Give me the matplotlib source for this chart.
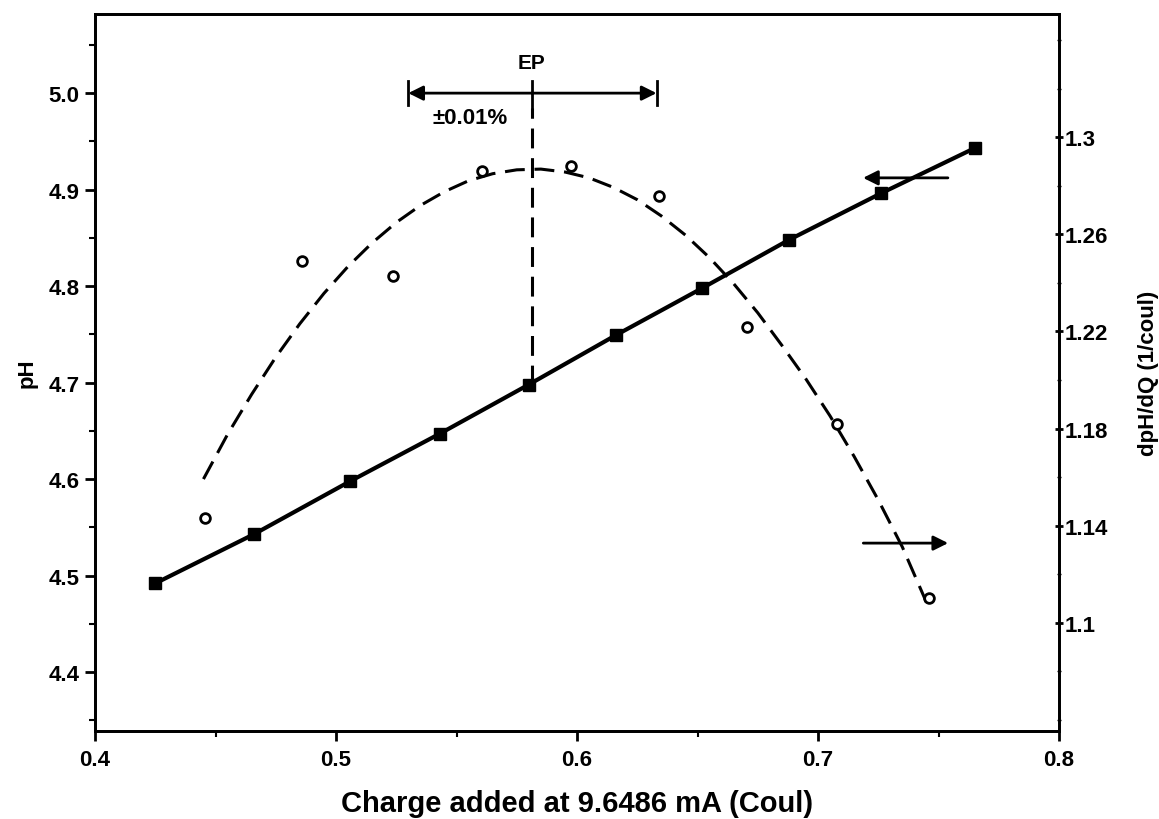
import matplotlib.pyplot as plt
from matplotlib.ticker import MultipleLocator, FormatStrFormatter
import numpy as np

# pH curve (left axis)
charge_ph = [0.425, 0.466, 0.506, 0.543, 0.580, 0.616, 0.652, 0.688, 0.726, 0.765]
ph = [4.492, 4.543, 4.598, 4.647, 4.698, 4.749, 4.798, 4.848, 4.896, 4.943]

# derivative points (right axis)
charge_d = [0.4456, 0.4858, 0.5238, 0.5605, 0.5975, 0.6342, 0.6704, 0.7078, 0.7462]
dphdq = [1.143, 1.249, 1.243, 1.286, 1.288, 1.276, 1.222, 1.182, 1.110]

# dashed fit curve
fit_x = [0.445, 0.455, 0.465, 0.475, 0.485, 0.495, 0.505, 0.515, 0.525, 0.535,
         0.545, 0.555, 0.565, 0.575, 0.585, 0.595, 0.605, 0.615, 0.625, 0.635,
         0.645, 0.655, 0.665, 0.675, 0.685, 0.695, 0.705, 0.715, 0.725, 0.735,
         0.745]
fit_y = [1.1592, 1.1776, 1.1941, 1.2094, 1.2232, 1.2357, 1.2468, 1.2565, 1.2649,
         1.2719, 1.2776, 1.2821, 1.2850, 1.2866, 1.2869, 1.2857, 1.2833, 1.2794,
         1.2743, 1.2676, 1.2597, 1.2504, 1.2397, 1.2277, 1.2143, 1.2004, 1.1852,
         1.1685, 1.1506, 1.1312, 1.1084]

ep = 0.5813
ep_lo = 0.530
ep_hi = 0.633
ep_ph = 4.698

plt.rcParams['font.family'] = ['Liberation Sans', 'DejaVu Sans']
plt.rcParams['font.weight'] = 'bold'

fig = plt.figure(figsize=(11.59, 8.2), dpi=100)
ax = fig.add_axes([95 / 1159, 1 - 732 / 820, (1059 - 95) / 1159, (732 - 15) / 820])
ax2 = ax.twinx()

ax.set_xlim(0.4, 0.8)
ax.set_ylim(4.339, 5.082)
ax2.set_ylim(1.0554, 1.3508)

ax.plot(charge_ph, ph, color='k', lw=3, marker='s', ms=9, zorder=3)
ax2.plot(fit_x, fit_y, color='k', lw=2.2, linestyle=(0, (6.5, 3.2)))
ax2.plot(charge_d, dphdq, linestyle='none', marker='o', ms=7, mfc='white',
         mec='k', mew=2)

# EP marker
ax.plot([ep, ep], [ep_ph, 4.985], color='k', lw=2.2, linestyle=(0, (6.5, 3.2)))
ax.plot([ep, ep], [4.985, 5.013], color='k', lw=2)
for xe in (ep_lo, ep_hi):
    ax.plot([xe, xe], [4.9875, 5.0125], color='k', lw=2)
for xe in (ep_lo, ep_hi):
    ax.annotate('', xy=(xe, 5.0), xytext=(ep, 5.0),
                arrowprops=dict(arrowstyle='-|>', color='k', lw=2,
                                mutation_scale=22, shrinkA=0, shrinkB=0))
ax.text(ep, 5.032, 'EP', ha='center', va='center', fontsize=15, fontweight='bold')
ax.text(0.5555, 4.975, '\u00b10.01%', ha='center', va='center', fontsize=16,
        fontweight='bold')

# axis arrows
ax.annotate('', xy=(0.7187, 4.9122), xytext=(0.7539, 4.9122),
            arrowprops=dict(arrowstyle='-|>', color='k', lw=2,
                            mutation_scale=22, shrinkA=0, shrinkB=0))
ax.annotate('', xy=(0.7540, 4.5337), xytext=(0.7188, 4.5337),
            arrowprops=dict(arrowstyle='-|>', color='k', lw=2,
                            mutation_scale=22, shrinkA=0, shrinkB=0))

ax.xaxis.set_major_locator(MultipleLocator(0.1))
ax.xaxis.set_minor_locator(MultipleLocator(0.05))
ax.yaxis.set_major_locator(MultipleLocator(0.1))
ax.yaxis.set_minor_locator(MultipleLocator(0.05))
ax.yaxis.set_major_formatter(FormatStrFormatter('%.1f'))
ax2.set_yticks([1.1, 1.14, 1.18, 1.22, 1.26, 1.3])
ax2.set_yticklabels(['1.1', '1.14', '1.18', '1.22', '1.26', '1.3'])
ax2.yaxis.set_minor_locator(MultipleLocator(0.02))

ax.tick_params(axis='both', which='major', direction='out', length=7, width=2,
               labelsize=16, pad=4)
ax.tick_params(axis='both', which='minor', direction='out', length=4, width=1.5)
ax2.tick_params(axis='y', which='major', direction='inout', length=6, width=2,
                labelsize=16, pad=1)
ax2.tick_params(axis='y', which='minor', direction='inout', length=3, width=1)
ax.tick_params(axis='x', pad=6)

for a in (ax, ax2):
    for s in a.spines.values():
        s.set_linewidth(2)

ax.set_xlabel('Charge added at 9.6486 mA (Coul)', fontsize=21, fontweight='bold',
              labelpad=14)
ax.set_ylabel('pH', fontsize=16, fontweight='bold', labelpad=8)
ax2.set_ylabel('dpH/dQ (1/coul)', fontsize=16, fontweight='bold', labelpad=22)

fig.savefig('out.png', dpi=100)
